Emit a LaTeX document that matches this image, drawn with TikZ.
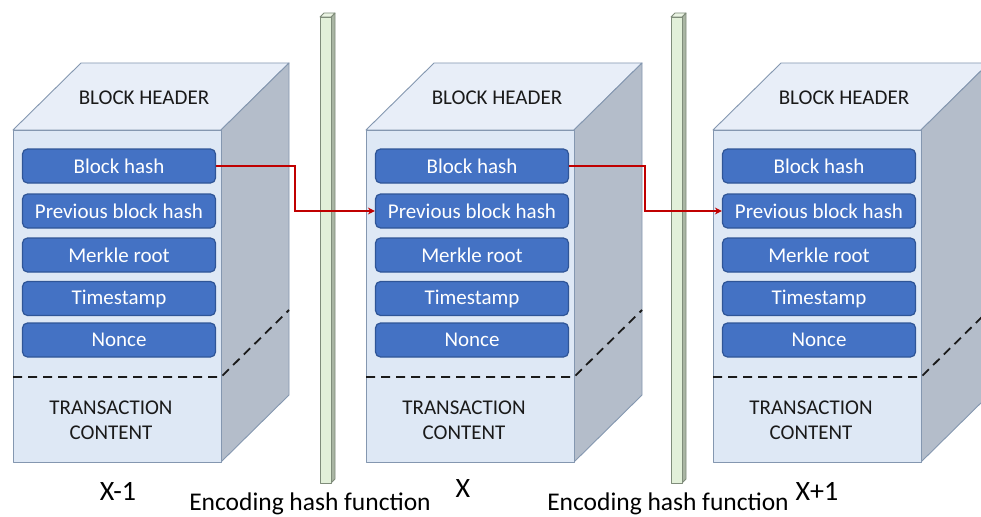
\documentclass[tikz,border=0pt]{standalone}
\usepackage{fontspec}
\setmainfont{Carlito}
\usetikzlibrary{arrows.meta,calc}
\definecolor{boxblue}{HTML}{4472C4}
\definecolor{boxedge}{HTML}{2F5597}
\definecolor{frontc}{HTML}{DEE8F5}
\definecolor{topc}{HTML}{E8EEF8}
\definecolor{sidec}{HTML}{B4BDCA}
\definecolor{cubeedge}{HTML}{8497B0}
\definecolor{pillarc}{HTML}{E2F0D9}
\definecolor{pillarside}{HTML}{A9B5A3}
\definecolor{pillaredge}{HTML}{7F8C7A}
\definecolor{linkred}{HTML}{C00000}
\definecolor{txt}{HTML}{1A1A1A}
\tikzset{
  field/.style={draw=boxedge, line width=1.2pt, fill=boxblue, rounded corners=5pt,
    minimum width=193pt, minimum height=34pt, inner sep=0pt,
    text=white, font=\fontsize{21}{23}\selectfont},
  face/.style={draw=cubeedge, line width=0.9pt, line join=round},
  divider/.style={dashed, dash pattern=on 9pt off 6pt, line width=1.8pt, draw=txt},
  hdr/.style={text=txt, font=\fontsize{21}{23}\selectfont},
  content/.style={text=txt, font=\fontsize{21}{25}\selectfont, align=center},
  caption/.style={text=black, font=\fontsize{25.5}{27}\selectfont},
  xlabel/.style={text=black, font=\fontsize{28}{30}\selectfont},
  link/.style={draw=linkred, line width=1.8pt, -{Stealth[length=7pt,width=7pt]}},
  pillarface/.style={draw=pillaredge, line width=0.8pt, line join=round}
}
\newcommand\drawblock[2]{%
  % #1 = left x of front face, #2 = name prefix
  \fill[topc] (#1,130) -- (#1+68,63) -- (#1+276,63) -- (#1+208,130) -- cycle;
  \draw[face] (#1,130) -- (#1+68,63) -- (#1+276,63) -- (#1+208,130) -- cycle;
  \fill[sidec] (#1+208,130) -- (#1+276,63) -- (#1+276,395) -- (#1+208,462) -- cycle;
  \draw[face] (#1+208,130) -- (#1+276,63) -- (#1+276,395) -- (#1+208,462) -- cycle;
  \draw[face, fill=frontc] (#1,130) rectangle (#1+208,462);
  \node[hdr] (#2hdr) at (#1+131,98) {BLOCK HEADER};
  \node[field] (#2h) at (#1+106,166) {Block hash};
  \node[field] (#2p) at (#1+106,211) {Previous block hash};
  \node[field] (#2m) at (#1+106,255) {Merkle root};
  \node[field] (#2t) at (#1+106,298.5) {Timestamp};
  \node[field] (#2n) at (#1+106,340) {Nonce};
  \draw[divider] (#1,377) -- (#1+208,377) -- (#1+276,310);
  \node[content] (#2tc) at (#1+98,420) {TRANSACTION\\CONTENT};
}
\newcommand\drawpillar[1]{%
  \draw[pillarface, fill=pillarside] (#1+11,17) -- (#1+15,13) -- (#1+15,479) -- (#1+11,483) -- cycle;
  \draw[pillarface, fill=pillarc!70!white] (#1,17) -- (#1+4,13) -- (#1+15,13) -- (#1+11,17) -- cycle;
  \draw[pillarface, fill=pillarc] (#1,17) rectangle (#1+11,483);
}
\begin{document}
\begin{tikzpicture}[x=1pt,y=-1pt]
  \useasboundingbox (0,0) rectangle (981,516);
  \clip (0,0) rectangle (981,516);
  \fill[white] (0,0) rectangle (981,516);
  \drawpillar{320}
  \drawpillar{671}
  \drawblock{13}{a}
  \drawblock{366}{b}
  \drawblock{713}{c}
  \coordinate (k1) at (295,0);
  \coordinate (k2) at (645,0);
  \draw[link] (ah.east) -- (ah.east -| k1) |- (bp.west);
  \draw[link] (bh.east) -- (bh.east -| k2) |- (cp.west);
  \node[xlabel] (l1) at (118,491) {X-1};
  \node[xlabel] (l2) at (463,489) {X};
  \node[xlabel] (l3) at (817,491) {X+1};
  \node[caption] (e1) at (310,504) {Encoding hash function};
  \node[caption] (e2) at (668,504) {Encoding hash function};
\end{tikzpicture}
\end{document}
